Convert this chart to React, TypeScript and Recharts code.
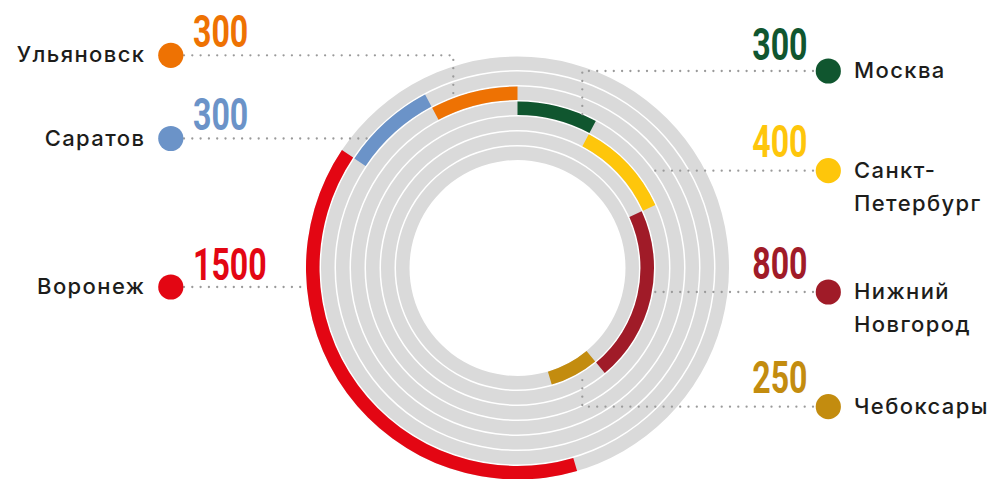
import React from 'react';
import { PieChart, Pie, Cell } from 'recharts';

// ---- data (clockwise from 12 o'clock) ----
const cities = ['Москва', 'Санкт-Петербург', 'Нижний Новгород', 'Чебоксары', 'Воронеж', 'Саратов', 'Ульяновск'];
const values = [300, 400, 800, 250, 1500, 300, 300];
const valueLabels = ['300', '400', '800', '250', '1500', '300', '300'];
const labelLines = [['Москва'], ['Санкт-', 'Петербург'], ['Нижний', 'Новгород'], ['Чебоксары'], ['Воронеж'], ['Саратов'], ['Ульяновск']];
// ring index counted from the outside
const ringIndex = [3, 4, 5, 6, 0, 1, 2];

// ---- styles ----
const colors = ['#10562f', '#fec60b', '#a01b28', '#c38c0f', '#e30613', '#6b93c8', '#ee7203'];
const TRACK = '#dadada';
const CX = 517.5;
const CY = 268;
const OUTER = 211.5;
const PITCH = 15;
const WIDTH = 13.5;

// annotation layout: side, dot y, number baseline, leader path
type Ann = { side: 'L' | 'R'; dotY: number; numY: number; leader: number[][] };
const layout: Ann[] = [
  { side: 'R', dotY: 71, numY: 59.5, leader: [[813, 71], [582.3, 71], [582.3, 118]] },
  { side: 'R', dotY: 170.7, numY: 156.7, leader: [[813, 170.7], [647, 170.7]] },
  { side: 'R', dotY: 292, numY: 278.5, leader: [[813, 292], [654, 292]] },
  { side: 'R', dotY: 406.7, numY: 393.3, leader: [[813, 406.7], [582.3, 406.7], [582.3, 373]] },
  { side: 'L', dotY: 287, numY: 280, leader: [[184, 287], [307, 287]] },
  { side: 'L', dotY: 138.5, numY: 130, leader: [[184, 138.5], [367, 138.5]] },
  { side: 'L', dotY: 55.3, numY: 46.7, leader: [[184, 55.3], [453.3, 55.3], [453.3, 100]] },
];

const total = values.reduce((a, b) => a + b, 0);
const pies = values.map((v, i) => {
  const before = values.slice(0, i).reduce((a, b) => a + b, 0);
  return [
    { name: 'before', value: before },
    { name: cities[i], value: v },
    { name: 'after', value: total - before - v },
  ];
});
const trackData = [{ name: 'track', value: total }];

const LABEL_FONT = 'Inter, "Noto Sans", sans-serif';
const NUM_FONT = 'Roboto, "Liberation Sans", sans-serif';

const Annotations = () => (
  <svg width={998} height={479} style={{ position: 'absolute', left: 0, top: 0, pointerEvents: 'none' }}>
    {layout.map((a, i) => {
      const isL = a.side === 'L';
      const dotX = isL ? 170.8 : 828.3;
      const textX = isL ? 144 : 854;
      const numX = isL ? 193 : 807.5;
      const lines = labelLines[i];
      const label = valueLabels[i];
      return (
        <g key={i}>
          <polyline
            points={a.leader.map((p) => p.join(',')).join(' ')}
            fill="none"
            stroke="#9a9a9a"
            strokeWidth={2.3}
            strokeDasharray="0 8.3"
            strokeLinecap="round"
          />
          <circle cx={dotX} cy={a.dotY} r={12.6} fill={colors[i]} />
          <text
            x={numX}
            y={a.numY}
            fill={colors[i]}
            fontFamily={NUM_FONT}
            fontWeight={700}
            fontSize={45}
            textAnchor={isL ? 'start' : 'end'}
            textLength={18.4 * label.length}
            lengthAdjust="spacingAndGlyphs"
          >
            {label}
          </text>
          {lines.map((t, k) => (
            <text
              key={k}
              x={isL ? textX + 1.4 : textX}
              y={a.dotY + 7 + k * 33}
              fill="#1d1d1b"
              fontFamily={LABEL_FONT}
              fontWeight={500}
              fontSize={22}
              letterSpacing={1.4}
              textAnchor={isL ? 'end' : 'start'}
            >
              {t}
            </text>
          ))}
        </g>
      );
    })}
  </svg>
);

export default function App() {
  return (
    <div style={{ position: 'absolute', left: 0, top: 0, width: 998, height: 479, background: '#fff', overflow: 'hidden' }}>
      <PieChart width={998} height={479} margin={{ top: 0, right: 0, bottom: 0, left: 0 }}>
        {pies.map((d, i) => {
          const outer = OUTER - PITCH * ringIndex[i];
          return (
            <Pie
              key={'track-' + cities[i]}
              data={trackData}
              dataKey="value"
              cx={CX}
              cy={CY}
              innerRadius={outer - WIDTH}
              outerRadius={outer}
              startAngle={90}
              endAngle={-270}
              stroke="none"
              fill={TRACK}
              isAnimationActive={false}
            />
          );
        })}
        {pies.map((d, i) => {
          const outer = OUTER - PITCH * ringIndex[i];
          return (
            <Pie
              key={cities[i]}
              data={d}
              dataKey="value"
              nameKey="name"
              cx={CX}
              cy={CY}
              innerRadius={outer - WIDTH}
              outerRadius={outer}
              startAngle={90}
              endAngle={-270}
              stroke="none"
              isAnimationActive={false}
            >
              <Cell fill="none" />
              <Cell fill={colors[i]} />
              <Cell fill="none" />
            </Pie>
          );
        })}
      </PieChart>
      <Annotations />
    </div>
  );
}
